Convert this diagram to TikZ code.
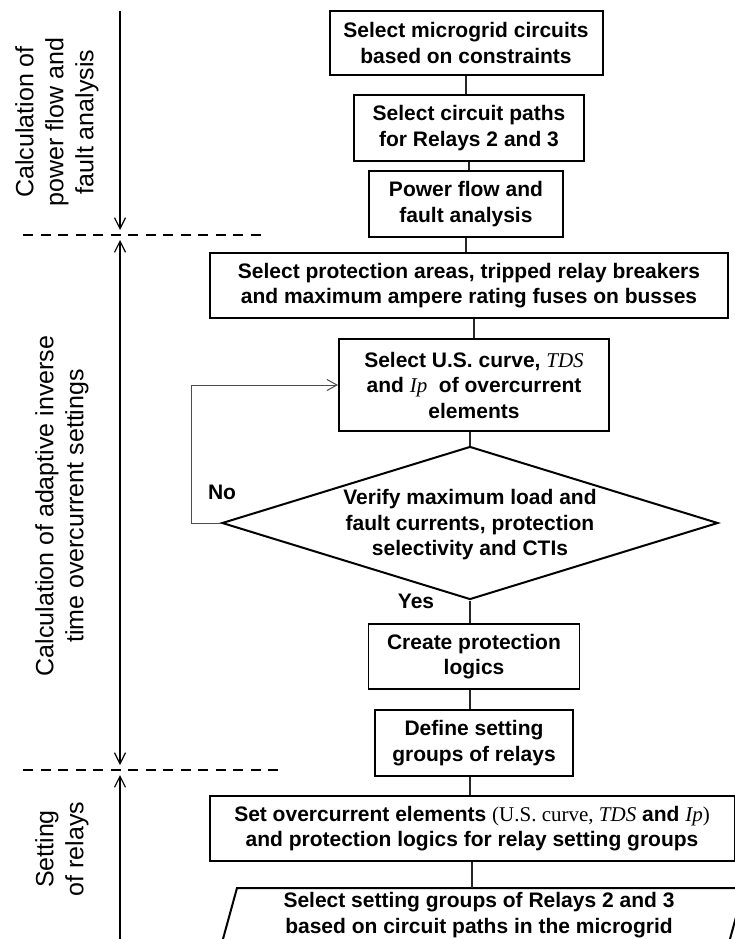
\documentclass[tikz,border=0pt]{standalone}
\usepackage{fontspec}
\setmainfont{Liberation Sans}
\newfontfamily\tnr{Liberation Serif}
\usetikzlibrary{arrows.meta,shapes.geometric}
% serif pieces inside the bold sans box texts
\newcommand\serifup[1]{{\tnr\mdseries #1}}
\newcommand\serifit[1]{{\tnr\mdseries\itshape #1}}
\tikzset{
  boxtext/.style={font=\bfseries\fontsize{21}{25.5}\selectfont},
  stepbox/.style={boxtext, draw, line width=2pt, align=center, inner sep=0pt},
  thinbox/.style={stepbox, line width=1.2pt},
  decbox/.style={draw, line width=2pt, diamond, inner sep=0pt,
                 minimum width=496pt, minimum height=153pt},
  conn/.style={line width=1.2pt, black!85},
  backloop/.style={line width=1pt, black!70, -{Straight Barb[length=10pt,width=11pt]}},
  axisline/.style={line width=1.4pt},
  barb/.tip={Straight Barb[length=11pt,width=11pt,line width=1.2pt]},
  phaseline/.style={line width=1.2pt, dash pattern=on 10pt off 7.5pt},
  phaselabel/.style={rotate=90, align=center, inner sep=0pt,
                     font=\fontsize{25}{30}\selectfont},
}
\begin{document}
\begin{tikzpicture}[x=1pt,y=1pt]
\useasboundingbox (0,0) rectangle (735,-939);
\clip (0,0) rectangle (735,-939);
\fill[white] (0,0) rectangle (735,-939);

% ---- phase axis on the left ----
\coordinate (ax0) at (120,-11);
\coordinate (ax1) at (120,-235);
\coordinate (ax2) at (120,-770);
\coordinate (ax3) at (120,-950);
\draw[axisline, -barb] (ax0) -- ([yshift=5]ax1);
\draw[axisline, barb-barb] ([yshift=-5]ax1) -- ([yshift=5]ax2);
\draw[axisline, barb-] ([yshift=-5]ax2) -- (ax3);

\coordinate (d1l) at (23,-235);
\coordinate (d1r) at (263,-235);
\coordinate (d2l) at (23,-770);
\coordinate (d2r) at (282,-770);
\draw[phaseline] (d1l) -- (d1r);
\draw[phaseline] (d2l) -- (d2r);

\node[phaselabel] (lab1) at (57,-122) {Calculation of\\power flow and\\fault analysis};
\node[phaselabel] (lab2) at (62,-506) {Calculation of adaptive inverse\\time overcurrent settings};
\node[phaselabel] (lab3) at (62,-849) {Setting\\of relays};

% ---- flow chart ----
\node[stepbox, minimum width=273pt, minimum height=64pt] (b1) at (466,-43)
  {Select microgrid circuits\\based on constraints};
\node[thinbox, minimum width=230pt, minimum height=66pt] (b2) at (469,-128)
  {Select circuit paths\\for Relays 2 and 3};
\node[stepbox, minimum width=194pt, minimum height=66pt] (b3) at (466,-204)
  {Power flow and\\fault analysis};
\node[stepbox, minimum width=518pt, minimum height=65pt] (b4) at (469,-285.5)
  {Select protection areas, tripped relay breakers\\and maximum ampere rating fuses on busses};
\node[stepbox, minimum width=270pt, minimum height=92pt] (b5) at (474,-385)
  {Select U.S. curve, \serifit{TDS}\\and \serifit{Ip}\ \ of overcurrent\\elements};
\node[decbox] (dia) at (470,-523) {};
\node[boxtext, align=center] (diatext) at (470,-525)
  {Verify maximum load and\\fault currents, protection\\selectivity and CTIs};
\node[thinbox, minimum width=211pt, minimum height=65pt] (b6) at (474,-656.5)
  {Create protection\\logics};
\node[stepbox, minimum width=198pt, minimum height=66pt] (b7) at (474,-743)
  {Define setting\\groups of relays};
\node[stepbox, minimum width=525pt, minimum height=65pt] (b8) at (472,-828.5)
  {Set overcurrent elements \serifup{(U.S. curve, }\serifit{TDS}\ and \serifit{Ip}\serifup{)}\\
   and protection logics for relay setting groups};

% slanted input/output box, running off the bottom edge
\coordinate (partop) at (472,-888);
\draw[line width=2pt] (237,-888) -- (744,-888) -- (722,-968) -- (215,-968) -- cycle;
\node[boxtext, align=center] (par) at (479,-915)
  {Select setting groups of Relays 2 and 3\\based on circuit paths in the microgrid};

% connectors
\draw[conn] (b1) -- (b1 |- b2.north);
\draw[conn] (b2) -- (b2 |- b3.north);
\draw[conn] (b3) -- (b3 |- b4.north);
\draw[conn] (b4.south -| b5) -- (b5);
\draw[conn] (b5.south -| dia) -- (dia.north);
\draw[conn] (dia.south) -- (dia.south |- b6.north);
\draw[conn] (b6.south -| dia) -- (dia |- b7.north);
\draw[conn] (b7.south -| dia) -- (dia |- b8.north);
\draw[conn] (b8.south) -- (partop);
\draw[backloop] (dia.west) -- ++(-30,0) |- (b5.west);

\node[boxtext] (no) at (222,-492) {No};
\node[boxtext] (yes) at (416,-601) {Yes};
\end{tikzpicture}
\end{document}
